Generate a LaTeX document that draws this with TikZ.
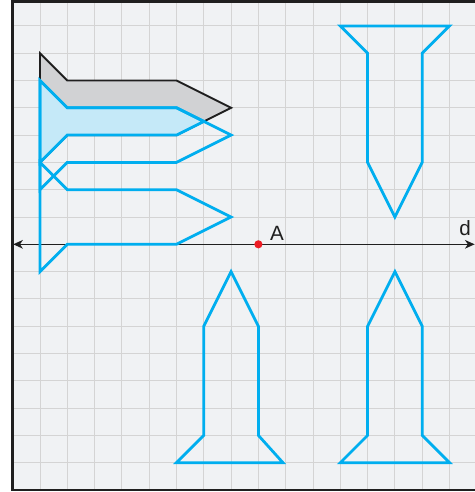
\documentclass[tikz,border=0pt]{standalone}
\usepackage{fontspec}
\setmainfont{Liberation Sans}
\usetikzlibrary{arrows.meta}
\begin{document}
\begin{tikzpicture}
% TikZ grid with flags, axis d and point A
\def\cellsz{1cm}
\providecommand{\symGridLineColor}{black!17}
\providecommand{\symGridBorderColor}{black!88}
\providecommand{\symGridLineWidth}{1pt}
\providecommand{\symBorderLineWidth}{2.6pt}
\providecommand{\symFlagLineWidth}{2.9pt}
\begin{scope}[x=\cellsz, y=\cellsz, line join=miter]
  \useasboundingbox (-0.465,-0.073) rectangle (16.934,17.949);
  % Background
  \fill[fill={rgb,1:red,0.941;green,0.949;blue,0.957}] (0,0) rectangle (16.934,17.9);
  % Vertical lines
  \begin{scope}[draw=\symGridLineColor, line width=\symGridLineWidth]
    \draw (1,0) -- (1,17.9);
    \draw (2,0) -- (2,17.9);
    \draw (3,0) -- (3,17.9);
    \draw (4,0) -- (4,17.9);
    \draw (5,0) -- (5,17.9);
    \draw (6,0) -- (6,17.9);
    \draw (7,0) -- (7,17.9);
    \draw (8,0) -- (8,17.9);
    \draw (9,0) -- (9,17.9);
    \draw (10,0) -- (10,17.9);
    \draw (11,0) -- (11,17.9);
    \draw (12,0) -- (12,17.9);
    \draw (13,0) -- (13,17.9);
    \draw (14,0) -- (14,17.9);
    \draw (15,0) -- (15,17.9);
    \draw (16,0) -- (16,17.9);
  \end{scope}
  % Horizontal lines
  \begin{scope}[draw=\symGridLineColor, line width=\symGridLineWidth]
    \draw (0,1) -- (16.934,1);
    \draw (0,2) -- (16.934,2);
    \draw (0,3) -- (16.934,3);
    \draw (0,4) -- (16.934,4);
    \draw (0,5) -- (16.934,5);
    \draw (0,6) -- (16.934,6);
    \draw (0,7) -- (16.934,7);
    \draw (0,8) -- (16.934,8);
    \draw (0,9) -- (16.934,9);
    \draw (0,10) -- (16.934,10);
    \draw (0,11) -- (16.934,11);
    \draw (0,12) -- (16.934,12);
    \draw (0,13) -- (16.934,13);
    \draw (0,14) -- (16.934,14);
    \draw (0,15) -- (16.934,15);
    \draw (0,16) -- (16.934,16);
    \draw (0,17) -- (16.934,17);
  \end{scope}
  % Outer frame, open on the right
  \draw[draw=\symGridBorderColor, line width=\symBorderLineWidth] (16.934,17.9) -- (0,17.9) -- (0,0) -- (16.934,0);
  % Axis d
  \coordinate (dleft) at (0.02,9);
  \coordinate (dright) at (16.92,9);
  \draw[draw=\symGridBorderColor, line width=1.6pt, {Stealth[length=10pt,width=9pt,inset=3pt]}-{Stealth[length=10pt,width=9pt,inset=3pt]}] (dleft) -- (dright);
  % Original flag
  \filldraw[fill={rgb,1:red,0.820;green,0.824;blue,0.831}, draw=\symGridBorderColor, line width=2pt]
    (1,16) -- (2,15) -- (6,15) -- (8,14) -- (6,13) -- (2,13) -- (1,12) -- cycle;
  % Flag images
  \begin{scope}[draw={rgb,1:red,0.000;green,0.682;blue,0.937}, line width=\symFlagLineWidth]
    \filldraw[fill={rgb,1:red,0.773;green,0.914;blue,0.973}]
      (1,15) -- (2,14) -- (6,14) -- (7,13.5) -- (6,13) -- (2,13) -- (1,12) -- cycle;
    \draw (1,15) -- (2,14) -- (6,14) -- (8,13) -- (6,12) -- (2,12) -- (1,11) -- cycle;
    \draw (1,12) -- (2,11) -- (6,11) -- (8,10) -- (6,9) -- (2,9) -- (1,8) -- cycle;
    \draw (12,17) -- (16,17) -- (15,16) -- (15,12) -- (14,10) -- (13,12) -- (13,16) -- cycle;
    \draw (8,8) -- (9,6) -- (9,2) -- (9.9,1) -- (6,1) -- (7,2) -- (7,6) -- cycle;
    \draw (14,8) -- (15,6) -- (15,2) -- (16,1) -- (12,1) -- (13,2) -- (13,6) -- cycle;
  \end{scope}
  % Point A and labels
  \coordinate (A) at (9,9);
  \fill[fill={rgb,1:red,0.929;green,0.110;blue,0.141}] (A) circle (0.15);
  \node[inner sep=0pt, text=\symGridBorderColor, font=\fontsize{21.5}{25}\selectfont] (labelA) at (9.68,9.40) {A};
  \node[inner sep=0pt, text=\symGridBorderColor, font=\fontsize{21.5}{25}\selectfont] (labeld) at (16.57,9.58) {d};
\end{scope}
\end{tikzpicture}
\end{document}
